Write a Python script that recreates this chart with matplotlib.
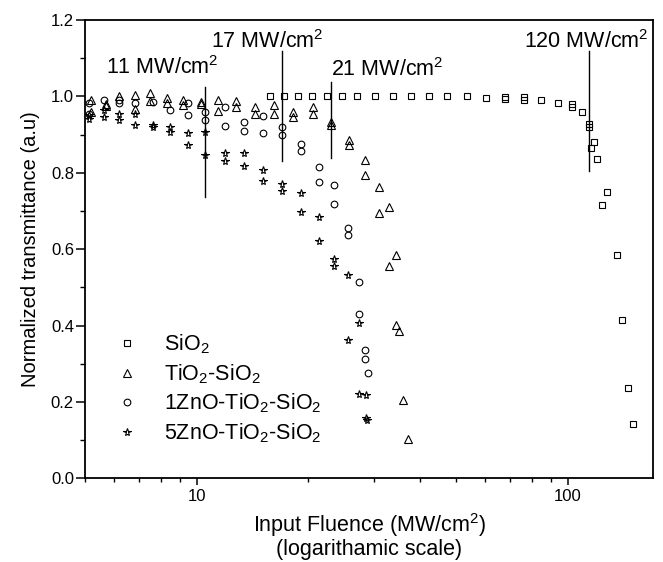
import numpy as np
import matplotlib
matplotlib.use("Agg")
import matplotlib.pyplot as plt
from matplotlib.ticker import FixedLocator, NullFormatter, MultipleLocator, FormatStrFormatter

plt.rcParams["font.family"] = ["Liberation Sans", "DejaVu Sans"]
plt.rcParams["mathtext.default"] = "regular"

# fluence (MW/cm^2) and normalized transmittance
sio2_f = [15.8, 17.2, 18.7, 20.5, 22.5, 24.7, 27.1, 30.3, 33.7, 37.7, 42.2, 47.3, 53.4,
          60.3, 67.8, 67.8, 76.1, 76.1, 84.8, 94.0, 102.5, 102.5, 109.4, 114.0, 114.0,
          117.5, 115.7, 119.7, 127.7, 123.8, 135.5, 139.6, 144.9, 149.7]
sio2_t = [1.0, 1.0, 1.0, 1.0, 1.0, 1.0, 1.0, 1.0, 1.0, 1.0, 1.0, 1.0, 1.0,
          0.997, 0.998, 0.993, 0.998, 0.991, 0.991, 0.984, 0.980, 0.973, 0.960, 0.929, 0.920,
          0.881, 0.866, 0.837, 0.749, 0.716, 0.585, 0.414, 0.237, 0.141]

tio2_f = [5.20, 5.20, 5.70, 5.70, 6.19, 6.84, 6.84, 7.50, 7.50, 8.30, 8.30, 9.21, 9.21,
          10.28, 10.28, 11.44, 11.44, 12.8, 12.8, 14.37, 14.37, 16.2, 16.2, 18.23, 18.23,
          20.54, 20.54, 23.03, 23.03, 25.8, 25.8, 28.5, 28.5, 30.95, 30.95, 33.07, 33.07,
          34.48, 34.48, 34.98, 35.93, 36.99]
tio2_t = [0.990, 0.960, 0.981, 0.976, 1.000, 1.004, 0.967, 1.008, 0.987, 0.997, 0.984, 0.990, 0.978,
          0.985, 0.980, 0.990, 0.962, 0.988, 0.971, 0.973, 0.955, 0.977, 0.954, 0.958, 0.945,
          0.971, 0.954, 0.934, 0.926, 0.886, 0.873, 0.833, 0.795, 0.762, 0.694, 0.711, 0.556,
          0.585, 0.402, 0.387, 0.205, 0.103]

zno1_f = [5.14, 5.14, 5.64, 6.19, 6.19, 6.84, 7.61, 8.46, 9.46, 9.46, 10.55, 10.55, 11.9, 11.9,
          13.39, 13.39, 15.1, 15.1, 16.99, 16.99, 19.11, 19.11, 21.32, 21.32, 23.5, 23.5,
          25.64, 25.64, 27.33, 27.33, 28.49, 28.49, 28.9]
zno1_t = [0.982, 0.954, 0.990, 0.990, 0.982, 0.984, 0.986, 0.964, 0.982, 0.952, 0.960, 0.939, 0.973, 0.923,
          0.934, 0.910, 0.949, 0.903, 0.919, 0.899, 0.875, 0.858, 0.814, 0.775, 0.768, 0.717,
          0.655, 0.638, 0.514, 0.431, 0.337, 0.312, 0.276]

zno5_f = [5.14, 5.14, 5.64, 5.64, 6.19, 6.19, 6.84, 6.84, 7.61, 7.61, 8.46, 8.46, 9.46, 9.46,
          10.55, 10.55, 11.9, 11.9, 13.39, 13.39, 15.1, 15.1, 16.99, 16.99, 19.11, 19.11,
          21.32, 21.32, 23.5, 23.5, 25.64, 25.64, 27.33, 27.45, 28.6, 28.6, 28.8]
zno5_t = [0.951, 0.941, 0.964, 0.947, 0.954, 0.938, 0.954, 0.925, 0.925, 0.921, 0.919, 0.906, 0.904, 0.873,
          0.906, 0.847, 0.853, 0.832, 0.853, 0.819, 0.807, 0.779, 0.771, 0.753, 0.746, 0.697,
          0.685, 0.621, 0.573, 0.555, 0.533, 0.361, 0.407, 0.222, 0.219, 0.159, 0.152]

# threshold markers: position, line bottom/top, label
mark_f = [10.5, 17.0, 23.0, 114.0]
mark_lo = [0.737, 0.830, 0.840, 0.804]
mark_hi = [1.025, 1.119, 1.038, 1.119]
mark_labels = ["11 MW/cm$^2$", "17 MW/cm$^2$", "21 MW/cm$^2$", "120 MW/cm$^2$"]
label_f = [5.71, 10.95, 23.0, 76.4]
label_t = [1.059, 1.126, 1.054, 1.126]

fig = plt.figure(figsize=(6.63, 5.62), dpi=100)
ax = fig.add_axes([0.1282, 0.1489, 0.8572, 0.8155])

kw = dict(ls="none", mfc="none", mec="black", mew=0.8)
ax.plot(sio2_f, sio2_t, marker="s", ms=4.3, label="SiO$_2$", **kw)
ax.plot(tio2_f, tio2_t, marker="^", ms=5.2, label="TiO$_2$-SiO$_2$", **kw)
ax.plot(zno1_f, zno1_t, marker="o", ms=4.8, label="1ZnO-TiO$_2$-SiO$_2$", **kw)
ax.plot(zno5_f, zno5_t, marker="*", ms=5.8, label="5ZnO-TiO$_2$-SiO$_2$", **kw)

for f, lo, hi in zip(mark_f, mark_lo, mark_hi):
    ax.plot([f, f], [lo, hi], color="black", lw=1.0)
for f, t, s in zip(label_f, label_t, mark_labels):
    ax.text(f, t, s, fontsize=15.5, ha="left", va="baseline")

ax.set_xscale("log")
ax.set_xlim(5, 170)
ax.set_ylim(0, 1.2)
ax.xaxis.set_major_locator(FixedLocator([10, 100]))
ax.xaxis.set_major_formatter(FormatStrFormatter("%d"))
ax.xaxis.set_minor_locator(FixedLocator([5, 6, 7, 8, 9, 20, 30, 40, 50, 60, 70, 80, 90]))
ax.xaxis.set_minor_formatter(NullFormatter())
ax.yaxis.set_major_locator(MultipleLocator(0.2))
ax.yaxis.set_minor_locator(MultipleLocator(0.1))
ax.yaxis.set_major_formatter(FormatStrFormatter("%.1f"))

for sp in ax.spines.values():
    sp.set_linewidth(1.3)
ax.tick_params(axis="x", which="major", direction="out", length=5, width=1.1, labelsize=12, pad=3)
ax.tick_params(axis="x", which="minor", direction="out", length=3, width=1.0)
ax.tick_params(axis="y", which="major", direction="out", length=6.5, width=1.1, labelsize=12, pad=1.5)
ax.tick_params(axis="y", which="minor", direction="out", length=3.5, width=1.0)

ax.set_xlabel("Input Fluence (MW/cm$^2$)\n(logarithamic scale)", fontsize=15.5, linespacing=1.0, labelpad=5)
ax.set_ylabel("Normalized transmittance (a.u)", fontsize=14.5, labelpad=8)

ax.legend(loc="upper left", bbox_to_anchor=(0.055, 0.318), frameon=False, fontsize=15.5,
          handlelength=1.0, handletextpad=1.2, labelspacing=0.28, borderpad=0, borderaxespad=0)

fig.savefig("out.png", dpi=100)
